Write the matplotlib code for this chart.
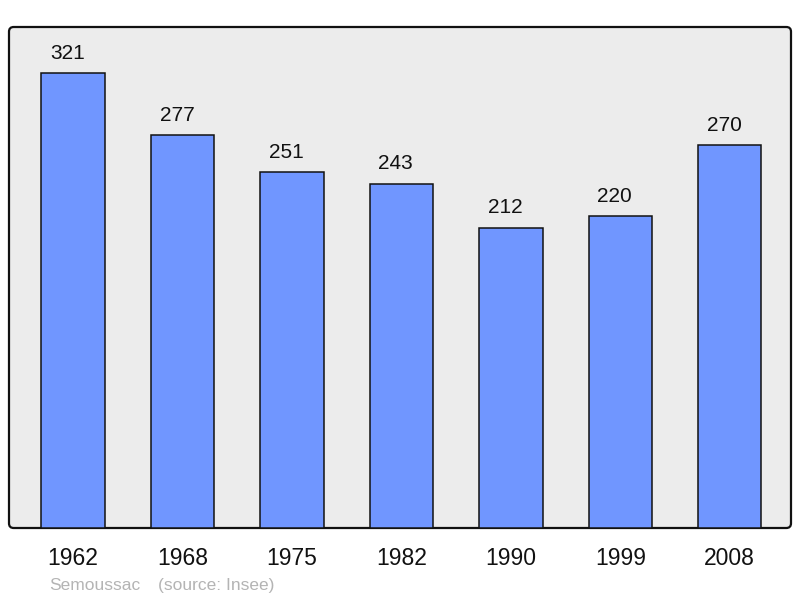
import matplotlib
matplotlib.use("Agg")
import matplotlib.pyplot as plt
from matplotlib.patches import FancyBboxPatch

years = ["1962", "1968", "1975", "1982", "1990", "1999", "2008"]
population = [321, 277, 251, 243, 212, 220, 270]
footer_name = "Semoussac"
footer_source = "(source: Insee)"

plt.rcParams['font.family'] = ['Liberation Sans', 'DejaVu Sans']

fig = plt.figure(figsize=(8, 5.98), dpi=100)
ax = fig.add_axes([9/800, 70/598, 782/800, 501/598])
ax.set_facecolor('none')
for s in ax.spines.values():
    s.set_visible(False)

frame = FancyBboxPatch((0, 0), 1, 1, boxstyle="round,pad=0,rounding_size=0.006",
                       transform=ax.transAxes, facecolor='#ececec', edgecolor='#111111',
                       linewidth=1.6, zorder=0, clip_on=False, mutation_aspect=782/501)
ax.add_patch(frame)

x = list(range(len(years)))
bars = ax.bar(x, population, width=0.58, color='#7096ff', edgecolor='#111111',
              linewidth=1.1, zorder=2)
for xi, v in zip(x, population):
    ax.annotate(str(v), (xi, v), xytext=(-4, 7.5), textcoords='offset points',
                ha='center', va='bottom', fontsize=15, color='#111111')

ax.set_xlim(-0.585, 6.56)
ax.set_ylim(0, 353.5)
ax.set_yticks([])
ax.set_xticks(x)
ax.set_xticklabels(years, fontsize=16.5, color='#111111')
ax.tick_params(axis='x', length=0, pad=13.5)

fig.text(49/800, 1 - 585.5/598, footer_name, fontsize=12.5, color='#b4b4b4', va='center', ha='left')
fig.text(158/800, 1 - 585.5/598, footer_source, fontsize=12.5, color='#b4b4b4', va='center', ha='left')

fig.savefig("out.png", dpi=100)
